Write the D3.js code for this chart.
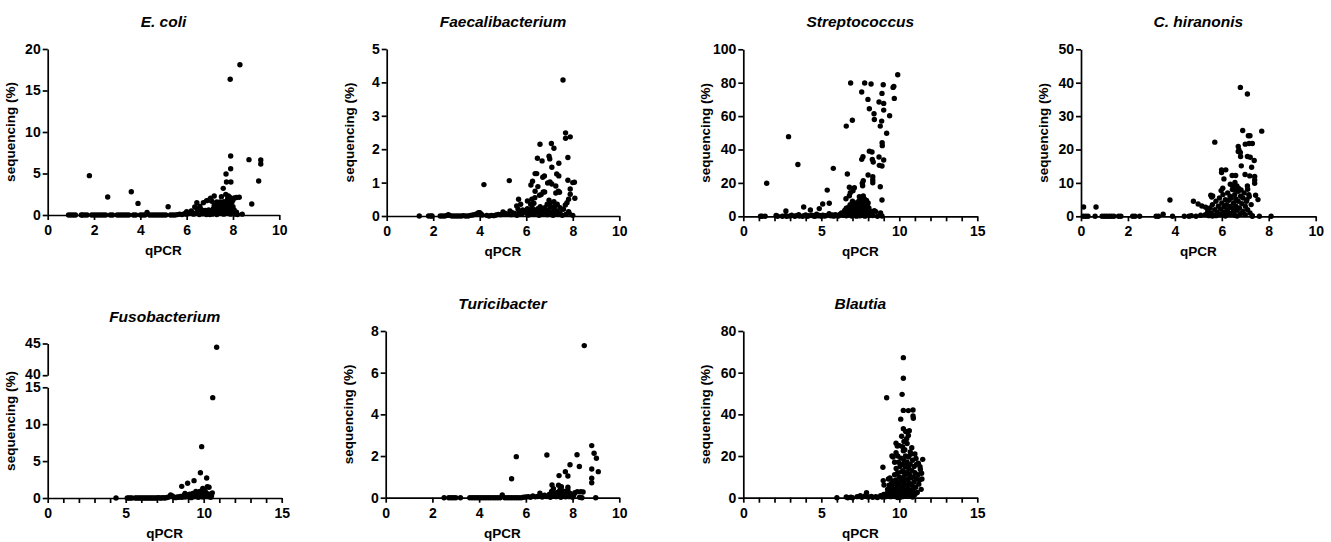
<!DOCTYPE html>
<html>
<head>
<meta charset="utf-8">
<script src="https://cdn.jsdelivr.net/npm/d3@7"></script>
<style>
  body { margin: 0; background: #fff; }
  svg { display: block; font-family: "Liberation Sans", Arial, sans-serif; }
  .tick text { font-size: 14px; font-weight: bold; fill: #000; }
  .domain, .tick line { stroke: #000; stroke-width: 1.7px; }
</style>
</head>
<body>
<svg id="chart" width="1331" height="542"></svg>
<script>
// qPCR (x) vs sequencing % (y), one array per genus
var ecoli = [
  [0.9,0],[1.0,0],[1.1,0],[1.2,0],[1.45,0],[1.5,0],[1.6,0],[1.7,0],[1.9,0],[2.0,0],[2.1,0],[2.2,0],[2.3,0],[2.4,0],[2.5,0],
  [2.7,0],[2.8,0],[3.0,0],[3.1,0],[3.2,0],[3.3,0],[3.4,0],[3.5,0],[3.7,0],[3.8,0],[4.0,0],[4.1,0],[4.2,0],[4.4,0],[4.5,0],
  [4.6,0],[4.7,0],[4.8,0],[4.9,0],[5.0,0],[5.1,0],[5.3,0],[5.4,0],[5.5,0],[5.6,0.05],[5.7,0.1],[5.8,0.05],[5.9,0.15],[6.0,0.1],
  [1.8,4.74],[2.59,2.17],[3.61,2.81],[3.9,1.4],[4.29,0.3],[5.2,1.0],
  [7.88,16.35],[8.3,18.1],[7.9,7.1],[7.9,5.58],[7.7,4.94],[7.72,3.98],[7.91,3.98],[8.69,6.67],[8.81,1.33],[9.2,6.63],
  [9.2,6.14],[9.11,4.1],[7.58,3.21],[7.69,2.49],[7.8,2.29],[7.86,2.13],[8.05,2.05],[8.15,2.1],[8.27,2.13],[7.19,2.29],
  [7.03,2.01],[6.98,1.81],[6.86,1.73],[7.09,1.65],[6.72,1.49],[6.44,1.49],[7.5,2.2],[7.77,1.97],[7.3,1.57],[7.44,1.57],
  [7.61,1.61],[7.86,1.69],[8.0,1.81],[7.19,1.16],[6.57,1.04],[6.35,0.96],
  [6.1,0.2],[6.2,0.35],[6.3,0.1],[6.4,0.25],[6.45,0.75],[6.5,0.4],[6.55,0.05],[6.6,0.3],[6.65,0.6],[6.7,0.15],[6.75,0.45],
  [6.8,0.25],[6.85,0.05],[6.9,0.35],[6.95,0.6],[7.0,0.2],[7.05,0.4],[7.1,0.1],[7.15,0.75],[7.2,0.3],[7.25,0.5],[7.3,0.15],
  [7.35,0.9],[7.4,0.4],[7.45,0.2],[7.5,0.65],[7.5,1.1],[7.55,0.3],[7.6,0.85],[7.6,0.1],[7.65,0.5],[7.65,1.25],[7.7,0.3],
  [7.7,0.95],[7.75,0.6],[7.75,1.4],[7.8,0.2],[7.8,1.05],[7.85,0.45],[7.9,0.8],[7.9,0.1],[7.95,0.5],[8.0,0.25],[8.0,1.0],
  [8.05,0.6],[8.1,0.1],[8.15,0.35],[8.2,0.05],[8.4,0.1],[7.4,1.2],[7.55,1.45],[7.85,1.2],[6.8,0.55],[7.0,0.05],[7.3,0.05],
  [7.2,0.85],[6.6,0.7],[6.2,0.5],[6.0,0.4],[7.95,1.55]
];
var faecali = [
  [1.4,0],[1.8,0],[1.9,0],[1.95,0],[2.3,0],[2.4,0],[2.5,0],[2.6,0.02],[2.65,0.04],[2.7,0.02],[2.8,0],[2.9,0],[3.0,0],[3.1,0],
  [3.2,0],[3.3,0.01],[3.4,0],[3.5,0],[3.6,0.02],[3.7,0.03],[3.8,0.05],[3.9,0.08],[3.95,0.1],[4.0,0.1],[4.05,0.06],[4.1,0.03],
  [4.3,0.02],[4.4,0],[4.5,0.02],[4.6,0.01],[4.7,0.03],[4.8,0.05],[4.9,0.04],[5.0,0.12],[5.05,0.06],[5.1,0.08],[5.2,0.05],
  [5.3,0.15],[5.35,0.04],[5.4,0.1],[5.5,0.08],[5.6,0.02],[5.65,0.2],[5.7,0.1],[5.8,0.05],[5.85,0.18],[5.9,0.12],[6.0,0.08],
  [6.05,0.22],[6.1,0.03],[6.15,0.15],[6.2,0.1],[6.25,0.25],[6.3,0.05],[6.35,0.18],[6.4,0.08],[6.45,0.12],[6.5,0.22],
  [6.55,0.02],[6.6,0.28],[6.6,0.12],[6.65,0.2],[6.7,0.06],[6.75,0.15],[6.8,0.25],[6.85,0.1],[6.9,0.04],[6.95,0.18],
  [7.0,0.08],[7.05,0.28],[7.1,0.12],[7.15,0.02],[7.2,0.2],[7.25,0.08],[7.3,0.15],[7.35,0.05],[7.45,0.1],[7.55,0.02],
  [7.7,0.05],[7.85,0.08],[8.0,0.02],
  [4.18,0.94],[5.27,1.06],[5.67,0.5],[5.59,0.3],[5.76,0.35],
  [7.58,4.07],[7.69,2.49],[7.69,2.33],[7.89,2.37],[6.59,2.15],[7.08,2.17],[7.19,2.03],[7.79,1.75],[6.48,1.73],[6.68,1.65],
  [6.98,1.79],[7.01,1.71],[7.1,1.46],[7.4,1.58],[6.38,1.27],[6.45,1.27],[6.71,1.16],[6.78,1.2],[7.31,1.26],[7.4,1.2],
  [6.27,1.04],[6.2,0.93],[6.92,0.99],[7.1,0.96],[7.02,1.02],[7.27,0.9],[7.79,1.07],[8.0,1.0],[8.07,1.01],[6.5,0.88],
  [6.38,0.74],[6.73,0.72],[6.79,0.72],[7.27,0.69],[7.89,0.81],[6.57,0.62],[6.64,0.64],[7.38,0.74],[7.43,0.71],[6.37,0.55],
  [6.24,0.5],[7.89,0.65],[8.09,0.53],[6.98,0.47],[7.02,0.39],[7.19,0.43],[7.75,0.4],[7.82,0.5],[7.23,0.3],[7.33,0.35],
  [7.68,0.33],[6.33,0.38],[6.19,0.35],[7.82,0.13],[6.05,0.45],[6.9,0.35],[7.45,0.25],[7.6,0.2]
];
var strep = [
  [1.1,0],[1.2,0],[1.4,0],[1.5,19.8],[2.1,0.5],[2.2,0],[2.5,0],[2.7,0.3],[2.73,3.2],[2.8,0],[2.9,47.7],[3.0,0.2],[3.1,0.6],
  [3.3,0],[3.4,0.4],[3.5,31],[3.55,1.0],[3.6,0.2],[3.8,0],[3.87,5.6],[3.9,0.4],[4.0,0.8],[4.1,0],[4.2,0.3],[4.3,3.8],
  [4.4,0.6],[4.5,0.2],[4.6,0],[4.7,1.2],[4.8,0.3],[4.87,4.6],[4.9,0.5],[5.0,0],[5.09,7.4],[5.1,0.7],[5.2,0.2],[5.3,0.4],
  [5.38,15.7],[5.5,1.5],[5.51,7.8],[5.6,0.3],[5.7,0.8],[5.77,28.7],[5.8,0.1],[5.9,1.0],[6.0,0.5],[6.1,0.2],[6.2,1.2],
  [6.3,2.0],[6.4,0.6],[6.5,3.5],[6.55,1.0],[6.6,4.8],[6.65,2.5],[6.7,0.8],
  [9.9,84.8],[6.88,79.8],[7.78,79.8],[8.19,79.2],[8.97,78.8],[9.6,77.2],[9.65,77.8],[7.59,74.4],[8.89,73.6],[7.99,70],
  [9.68,70.6],[8.7,68.4],[9.0,67.6],[8.08,64.4],[9.0,63.6],[8.38,61.4],[9.38,60.2],[6.6,54],[6.99,57.5],[8.4,58],[8.87,57],
  [8.78,54],[9.19,49.7],[8.9,44],[8.91,42.3],[8.08,39],[8.25,38.5],[8.27,34],[8.33,32.5],[8.7,35.5],[9.0,33.7],[7.67,35.7],
  [7.59,34.1],[8.72,30.5],[8.89,30.1],[8.0,24.7],[8.3,23.7],[8.3,21.7],[8.3,20.1],[7.69,21.3],[7.63,19.8],[7.65,18.3],
  [7.12,17.1],[7.03,15.3],[6.8,17.4],[6.67,25.3],[8.78,17.7],[8.89,9.8],[6.86,14.1],[6.8,12.3],[6.58,10.5],[7.44,11.7],
  [7.56,11.1],[7.69,12.2],[8.4,3.4],[8.49,2.8],[8.89,0.2],
  [6.7,3],[6.75,5.5],[6.8,1.5],[6.85,7],[6.9,4],[6.95,2],[7.0,9],[7.0,0.5],[7.05,6],[7.1,3],[7.15,1],[7.2,8],[7.2,4.5],
  [7.25,2],[7.3,6.5],[7.3,0.8],[7.35,3.5],[7.4,9],[7.4,5],[7.45,1.5],[7.5,7.5],[7.5,3],[7.55,10],[7.55,0.5],[7.6,6],[7.6,2],
  [7.65,8.5],[7.65,4],[7.7,1],[7.7,6.8],[7.75,10.5],[7.75,3],[7.8,8],[7.8,5],[7.85,1.5],[7.85,7],[7.9,9.5],[7.9,3.5],
  [7.95,6],[8.0,8],[8.0,2],[8.05,5],[8.1,0.5],[8.15,3],[8.2,1],[6.6,0.3],[6.95,0.2],[7.25,0.1],[7.45,0.3],[7.8,0.1],
  [8.3,0.5],[8.6,0],[8.8,2]
];
var chiran = [
  [0.1,0],[0.2,0],[0.3,0],[0.6,0],[0.9,0],[1.0,0],[1.1,0],[1.2,0],[1.3,0],[1.4,0],[1.6,0],[1.7,0],[2.2,0],[2.3,0],[2.5,0],
  [3.2,0],[3.3,0],[3.5,0.6],[3.9,0],[4.4,0],[4.6,0],[4.7,0.2],[4.9,0],[5.1,0.3],[7.3,0],[7.6,0],[8.1,0],
  [0.11,2.8],[0.64,2.8],[3.79,4.9],[4.79,4.5],[4.99,3.7],[5.15,3.1],[5.31,2.7],[5.7,22.2],
  [6.79,38.6],[7.09,36.6],[6.89,25.7],[7.7,25.5],[7.13,24.1],[7.2,24.1],[7.0,21.6],[7.3,21.8],[6.7,20.9],[7.16,21.8],
  [6.7,19.4],[6.79,19.1],[6.73,19.9],[6.8,17.9],[7.09,17.9],[7.21,17.7],[7.38,16.7],[6.83,15.1],[7.27,14.7],[5.99,13.9],
  [6.17,13.9],[5.99,13.1],[6.44,12.2],[6.59,12.2],[6.99,12.5],[7.19,12.1],[7.4,11.9],[6.09,11.2],[7.4,10.9],[7.4,9.9],
  [6.56,10.1],[6.64,9.1],[6.71,8.4],[6.55,7.9],[6.82,7.9],[7.09,9.1],[7.1,8.1],[6.04,8.4],[5.97,7.7],[6.36,9.6],[6.46,9.1],
  [5.53,6.3],[5.61,6.1],[5.57,5.8],[7.44,6.3],[7.54,5.0],[7.17,5.9],[7.07,5.0],
  [5.3,0.5],[5.4,1.5],[5.45,0.2],[5.5,2.5],[5.55,1],[5.6,3.5],[5.65,0.3],[5.7,2],[5.75,4.5],[5.8,1.2],[5.85,3],[5.9,0.5],
  [5.9,5.5],[5.95,2.2],[6.0,4],[6.0,0.8],[6.05,6.5],[6.1,2.8],[6.1,1.2],[6.15,5],[6.2,3.5],[6.2,0.4],[6.25,7],[6.25,2],
  [6.3,4.8],[6.3,1],[6.35,6],[6.35,3],[6.4,0.5],[6.4,5.5],[6.45,2.5],[6.45,8],[6.5,4],[6.5,1.5],[6.55,6.5],[6.55,0.3],
  [6.6,3],[6.6,5.2],[6.65,1.8],[6.7,4.5],[6.7,7.5],[6.75,2.5],[6.8,6],[6.8,0.8],[6.85,3.8],[6.9,5.5],[6.9,1.5],[6.95,7],
  [7.0,3],[7.0,0.5],[7.05,4.5],[7.1,2],[7.15,6.5],[7.2,1],[7.25,3.5],[7.3,0.2],[6.15,0.1],[6.65,0.1],[5.6,0.1],[5.75,0.2]
];
var fuso = [
  [4.38,0],[5.1,0],[5.2,0],[5.3,0],[5.4,0],[5.6,0],[5.7,0],[5.8,0],[5.9,0],[6.0,0],[6.1,0],[6.2,0],[6.3,0],[6.4,0],[6.5,0],
  [6.6,0],[6.7,0],[6.8,0],[6.9,0],[7.0,0],[7.1,0.05],[7.2,0],[7.3,0],[7.4,0.05],[7.5,0],[7.6,0.05],[7.7,0.1],[7.88,0.4],
  [7.99,0.27],[8.1,0.1],[8.2,0.05],[8.3,0.15],[8.4,0.1],[8.5,0.2],[8.59,1.58],[8.6,0.1],[8.7,0.3],[8.8,0.15],[8.9,0.4],
  [8.97,1.99],[9.0,0.2],[9.1,0.5],[9.2,0.3],[9.3,0.6],[9.38,2.35],[9.4,0.2],[9.5,0.5],[9.6,0.7],[9.7,0.3],[9.79,3.43],
  [9.8,0.6],[9.87,6.96],[9.9,0.4],[9.94,1.31],[10.0,0.8],[10.02,1.08],[10.1,0.3],[10.19,2.71],[10.2,0.6],[10.23,1.54],
  [10.3,0.2],[10.34,1.45],[10.4,0.5],[10.5,0.3],[10.55,0.7],[10.58,13.6],[10.83,44.4],[9.65,0.1],[9.95,0.15],[10.1,0.9],
  [10.45,0.1],[9.2,0.05],[8.8,0.6],[9.5,0.9],[9.75,0.9]
];
var turici = [
  [2.5,0],[2.7,0],[2.8,0],[2.9,0],[3.0,0],[3.2,0],[3.6,0],[3.7,0],[3.8,0],[3.9,0],[4.0,0],[4.1,0],[4.2,0],[4.3,0],[4.4,0],
  [4.5,0],[4.6,0],[4.7,0],[4.8,0],[4.9,0],[4.99,0.13],[5.1,0],[5.2,0],[5.3,0],[5.4,0],[5.5,0],[5.6,0],[5.7,0],[5.8,0],
  [5.9,0.02],[6.0,0.03],[6.1,0.05],[6.2,0.02],[6.3,0.08],[6.4,0.04],[6.5,0.06],[6.6,0.22],[6.65,0.1],[6.7,0.03],[6.8,0.12],
  [6.9,0.06],[7.0,0.15],[7.05,0.02],[7.1,0.3],[7.2,0.08],[7.25,0.2],[7.3,0.05],[7.35,0.25],[7.4,0.12],[7.45,0.35],
  [7.5,0.02],[7.55,0.18],[7.6,0.08],[7.65,0.3],[7.7,0.04],[7.75,0.15],[7.85,0.05],[7.9,0.2],[7.95,0.1],[8.0,0.02],
  [8.05,0.12],[8.3,0.02],[8.4,0],[8.45,0.27],
  [8.5,7.3],[8.82,2.5],[8.92,2.13],[9.02,1.89],[9.1,1.25],[8.82,1.38],[8.82,0.93],[8.82,0.72],[8.19,2.06],[8.29,1.5],
  [7.89,1.58],[7.69,1.25],[7.8,1.04],[7.42,1.06],[6.9,2.05],[5.59,1.97],[5.39,0.91],[7.8,0.5],[7.8,0.37],[7.52,0.53],
  [7.49,0.37],[7.12,0.61],[7.18,0.43],[8.1,0.24],[8.2,0.29],[8.35,0.29],[8.99,0],[7.4,0.6],[7.5,0.45]
];
var blautia = [
  [6.0,0],[6.6,0.3],[6.7,0],[6.9,0.2],[7.0,0],[7.3,0.5],[7.5,1.0],[7.6,0.2],[7.8,0.8],[7.9,2.4],[8.0,0.3],[8.2,0.6],[8.3,0.2],
  [8.5,0.5],[8.6,0.1],[8.8,0.9],[8.9,0.3],[9.0,1.5],[9.1,0.4],
  [9.19,48],[8.95,14.6],[8.97,8.2],[9.02,6.1],[10.26,67.2],[10.26,57.3],[10.18,49.6],[10.26,41.9],[10.58,41.8],[10.88,42.1],
  [10.88,39.2],[10.9,38.1],[10.09,37.7],[10.26,33.1],[10.41,31.8],[10.64,32.1],[10.15,29.5],[10.47,28.3],[10.58,29.9],
  [9.79,26.1],[9.87,24.8],[10.21,24.5],[9.53,20.0],[9.79,21.6],[10.26,22.5],[10.73,20.9],[11.07,18.8],[11.5,18.4],
  [11.22,16.5],[11.33,14.9],[11.43,11.7],[9.6,19.5],[9.4,9.5],[9.3,9],[9.5,7],
  [9.2,2],[9.25,4],[9.3,1],[9.35,6],[9.4,3],[9.45,0.5],[9.5,5],[9.55,2.5],[9.6,8],[9.6,1],[9.65,4],[9.7,11],[9.7,6.5],
  [9.75,2],[9.8,14],[9.8,8.5],[9.8,0.5],[9.85,5],[9.9,3],[9.9,12],[9.95,17],[9.95,7],[10.0,1.5],[10.0,10],[10.05,4.5],
  [10.05,15],[10.1,8],[10.1,19],[10.1,2],[10.15,12.5],[10.15,5.5],[10.2,0.5],[10.2,16],[10.2,9.5],[10.25,3.5],[10.25,13],
  [10.3,7],[10.3,18],[10.3,1],[10.35,11],[10.35,4],[10.4,15],[10.4,8.5],[10.4,20],[10.45,2.5],[10.45,6],[10.5,12],
  [10.5,17],[10.5,0.8],[10.55,9],[10.55,4.5],[10.6,14],[10.6,19.5],[10.6,2],[10.65,7],[10.65,11],[10.7,16],[10.7,3.5],
  [10.75,9.5],[10.75,1],[10.8,13],[10.8,6],[10.85,18],[10.85,2.5],[10.9,10],[10.9,4],[10.95,15],[10.95,7.5],[11.0,1.5],
  [11.0,12],[11.05,5],[11.1,9],[11.1,16],[11.15,2.5],[11.2,11],[11.25,6.5],[11.3,8.5],[11.35,13.5],[11.4,4],[11.45,9],
  [10.0,25],[10.5,26],[10.35,23],[10.7,22],[11.0,21],[9.7,17],[9.9,20],[10.8,24],[10.3,27],[10.05,0.2],[10.85,0.3],[9.9,0.1]
];

var titles = ["E. coli", "Faecalibacterium", "Streptococcus", "C. hiranonis", "Fusobacterium", "Turicibacter", "Blautia"];
var series = [ecoli, faecali, strep, chiran, fuso, turici, blautia];
var xMaxes = [10, 10, 15, 10, 15, 10, 15];
var yTicks = [[0,5,10,15,20], [0,1,2,3,4,5], [0,20,40,60,80,100], [0,10,20,30,40,50], [0,5,10,15], [0,2,4,6,8], [0,20,40,60,80]];
var fusoUpperTicks = [40, 45];

// panel boxes (plot area)
var boxes = [
  {left: 47.7, top: 49, width: 231.6, height: 166},
  {left: 386.7, top: 49, width: 232.6, height: 167},
  {left: 743.3, top: 49.3, width: 234, height: 167},
  {left: 1081, top: 49.3, width: 234.7, height: 167},
  {left: 47.7, top: 344, width: 234, height: 154},
  {left: 385.7, top: 331, width: 233.6, height: 166.7},
  {left: 743.3, top: 331, width: 234, height: 166.7}
];

var svg = d3.select("#chart");
var fmt = d3.format("d");

series.forEach(function(data, i) {
  var b = boxes[i];
  var g = svg.append("g").attr("transform", "translate(" + b.left + "," + b.top + ")");
  var xMax = xMaxes[i];
  var x = d3.scaleLinear().domain([0, xMax]).range([0, b.width]);
  var yt = yTicks[i];
  var yFn;

  if (i == 4) {
    // broken axis: 0-15 below, 40-45 above
    var yLow = d3.scaleLinear().domain([0, 15]).range([b.height, 43.3]);
    var yHigh = d3.scaleLinear().domain([40, 45]).range([31.2, -0.5]);
    yFn = (v) => v > 15 ? yHigh(v) : yLow(v);
    g.append("g").call(d3.axisLeft(yLow).tickValues(yt).tickFormat(fmt).tickSize(5).tickSizeOuter(0).tickPadding(2));
    var up = g.append("g").call(d3.axisLeft(yHigh).tickValues(fusoUpperTicks).tickFormat(fmt).tickSize(5).tickSizeOuter(0).tickPadding(2));
    up.selectAll(".tick text").attr("dy", "0.25em");
  } else {
    var y = d3.scaleLinear().domain([0, yt[yt.length - 1]]).range([b.height, 0]);
    yFn = y;
    g.append("g").call(d3.axisLeft(y).tickValues(yt).tickFormat(fmt).tickSize(5).tickSizeOuter(0).tickPadding(2));
  }

  var labelStep = xMax == 15 ? 5 : 2;
  var minorStep = xMax == 15 ? 1 : 2;
  g.append("g")
    .attr("transform", "translate(0," + b.height + ")")
    .call(d3.axisBottom(x)
      .tickValues(d3.range(0, xMax + 0.001, minorStep))
      .tickFormat((d) => d % labelStep == 0 ? fmt(d) : "")
      .tickSize(5).tickSizeOuter(0).tickPadding(5));

  g.selectAll("circle")
    .data(data)
    .enter()
    .append("circle")
    .attr("cx", (d) => x(d[0]))
    .attr("cy", (d) => yFn(d[1]))
    .attr("r", 2.7)
    .attr("fill", "#000");

  g.append("text")
    .attr("x", b.width / 2)
    .attr("y", -22.5)
    .attr("text-anchor", "middle")
    .style("font-size", "15.5px")
    .style("font-weight", "bold")
    .style("font-style", "italic")
    .text(titles[i]);

  g.append("text")
    .attr("x", b.width / 2)
    .attr("y", b.height + 40)
    .attr("text-anchor", "middle")
    .style("font-size", "13.5px")
    .style("font-weight", "bold")
    .text("qPCR");

  g.append("text")
    .attr("transform", "translate(-28," + (b.height / 2) + ") rotate(-90)")
    .attr("dy", "-5")
    .attr("text-anchor", "middle")
    .style("font-size", "13.5px")
    .style("font-weight", "bold")
    .text("sequencing (%)");
});
</script>
</body>
</html>
